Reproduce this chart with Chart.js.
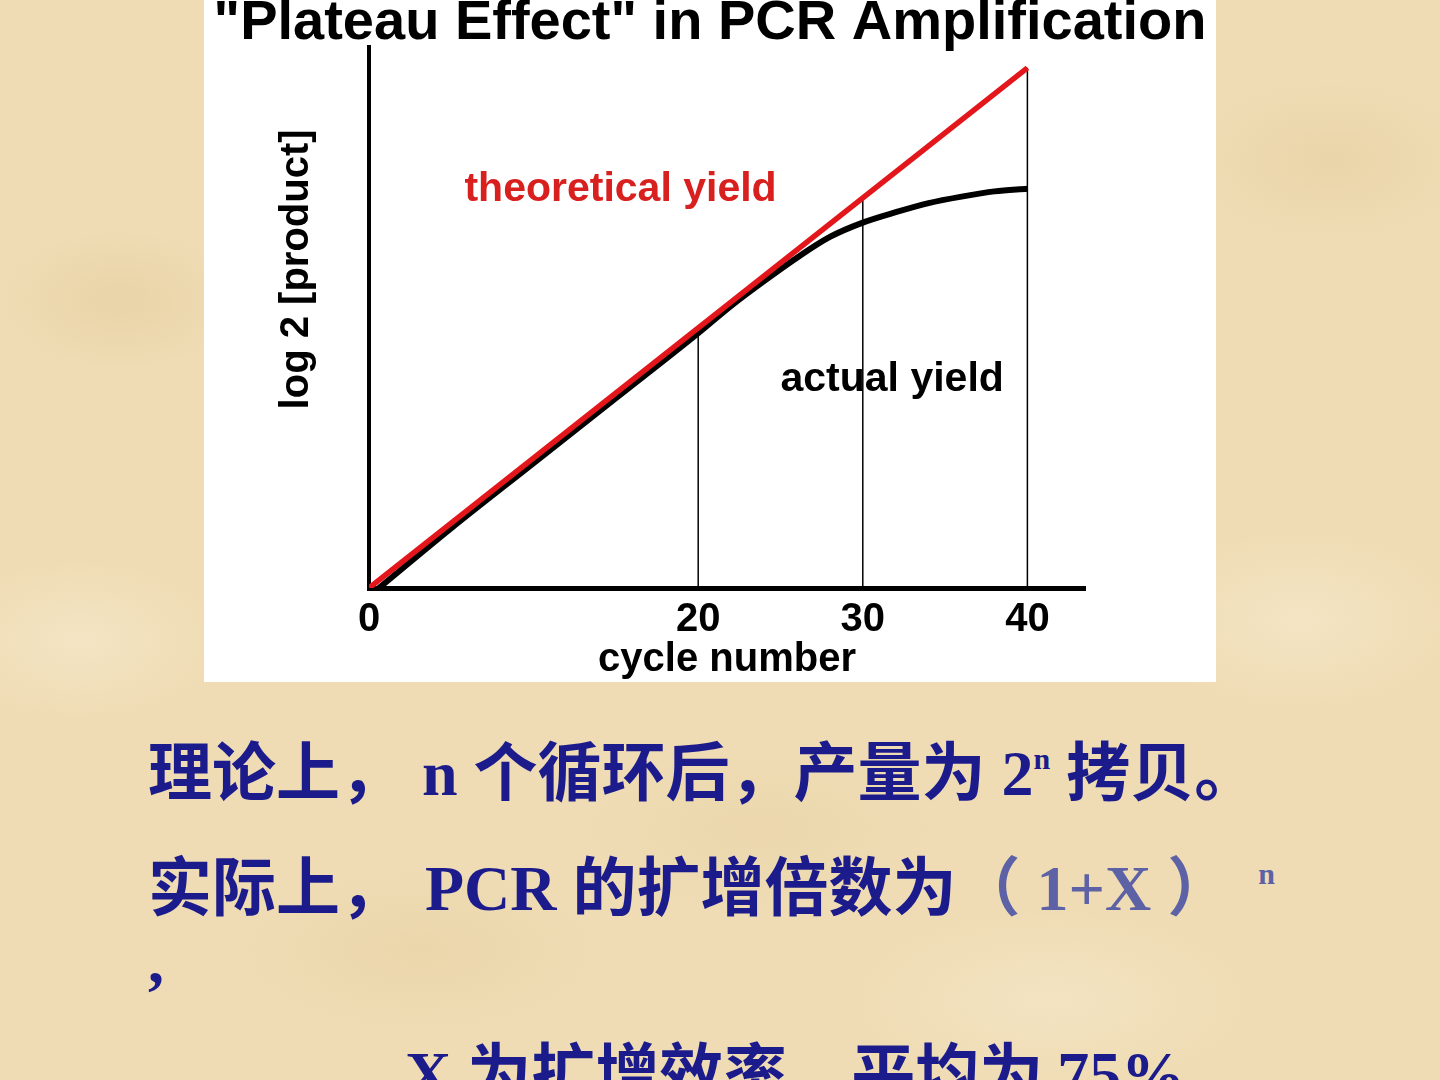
<!DOCTYPE html>
<html>
<head>
<meta charset="utf-8">
<script src="https://cdn.jsdelivr.net/npm/chart.js@4.4.1/dist/chart.umd.min.js"></script>
<style>
  html, body {
    margin: 0;
    padding: 0;
  }
  body {
    width: 1440px;
    height: 1080px;
    overflow: hidden;
    position: relative;
    background-color: #efdcb4;
    background-image:
      radial-gradient(ellipse 120px 70px at 120px 300px, rgba(222, 196, 146, 0.35), transparent),
      radial-gradient(ellipse 140px 80px at 1330px 160px, rgba(222, 196, 146, 0.3), transparent),
      radial-gradient(ellipse 160px 90px at 1300px 620px, rgba(248, 236, 210, 0.5), transparent),
      radial-gradient(ellipse 140px 80px at 80px 640px, rgba(248, 236, 210, 0.5), transparent),
      radial-gradient(ellipse 180px 80px at 420px 950px, rgba(222, 196, 146, 0.25), transparent),
      radial-gradient(ellipse 200px 90px at 1050px 1000px, rgba(248, 236, 210, 0.45), transparent),
      radial-gradient(ellipse 180px 80px at 760px 830px, rgba(222, 196, 146, 0.2), transparent);
  }
  #panel {
    position: absolute;
    left: 204px;
    top: 0;
    width: 1012px;
    height: 682px;
    background: #ffffff;
  }
  .line {
    position: absolute;
    left: 148px;
    white-space: pre;
    font-family: "Liberation Serif", "Noto Sans CJK SC", serif;
    font-weight: bold;
    font-size: 64px;
    line-height: 64px;
    color: #1b1b8b;
  }
  .soft { color: #5d62a6; }
  sup {
    font-size: 30px;
    vertical-align: 0;
    position: relative;
    top: -26px;
  }
</style>
</head>
<body>
<div id="panel"><canvas id="plateauChart" width="1012" height="682"></canvas></div>

<div class="line" style="top:742px">理论上，<span style="margin-left:18px">n 个循环后，产量为 2<sup>n</sup> 拷贝。</span></div>
<div class="line" style="top:857px">实际上，<span style="margin-left:21px">PCR 的扩增倍数为</span><span class="soft">（ 1+X ）<sup style="margin-left:27px">n</sup></span></div>
<div class="line" style="top:929px">,</div>
<div class="line" style="top:1043px;left:405px">X 为扩增效率，平均为<span style="margin-left:14px">75%</span></div>

<script>
// Axis / tick data
const cycleTicks = [0, 20, 30, 40];
const xMax = 43.5;
const yMax = 41.6;

// Theoretical yield: straight line, log2 product = cycle number
const theoCycles = [0, 40];
const theoValues = [0, 40];

// Actual yield: follows theory then levels off (plateau)
const actualCycles = [0.6, 5, 10, 15, 20, 22, 24, 26, 28, 30, 32, 34, 36, 38, 40];
const actualValues = [0, 4.6, 9.6, 14.6, 19.6, 21.7, 23.6, 25.4, 27.0, 28.1, 28.9, 29.6, 30.1, 30.5, 30.7];

// Vertical guide lines at these cycles, up to the theoretical line
const dropCycles = [20, 30, 40];
const dropTops = [20, 30, 40];

const labelFont = { family: 'Liberation Sans', weight: 'bold', size: 40 };

// Free text inside the plot
const annotationPlugin = {
  id: 'annotations',
  afterDatasetsDraw(chart) {
    const { ctx, scales } = chart;
    const x = scales.x, y = scales.y;
    ctx.save();
    ctx.font = 'bold 41px "Liberation Sans"';
    ctx.textBaseline = 'middle';
    ctx.textAlign = 'left';

    ctx.fillStyle = '#d8201f';
    ctx.fillText('theoretical yield', x.getPixelForValue(5.8), y.getPixelForValue(30.6));

    ctx.fillStyle = '#000000';
    ctx.fillText('actual yield', x.getPixelForValue(25.0), y.getPixelForValue(16.0));

    // y axis title, rotated
    ctx.font = 'bold 40px "Liberation Sans"';
    ctx.translate(x.getPixelForValue(0) - 72, y.getPixelForValue(24.5));
    ctx.rotate(-Math.PI / 2);
    ctx.textAlign = 'center';
    ctx.fillText('log 2 [product]', 0, 0);
    ctx.restore();
  }
};

function buildDatasets() {
  const datasets = [];

  datasets.push({
    label: 'theoretical yield',
    data: theoCycles.map((c, i) => ({ x: c, y: theoValues[i] })),
    borderColor: '#e3161b',
    borderWidth: 5.5,
    pointRadius: 0,
    order: 0
  });

  datasets.push({
    label: 'actual yield',
    data: actualCycles.map((c, i) => ({ x: c, y: actualValues[i] })),
    borderColor: '#000000',
    borderWidth: 6,
    pointRadius: 0,
    tension: 0.4,
    cubicInterpolationMode: 'monotone',
    order: 1
  });

  dropCycles.forEach((c, i) => {
    datasets.push({
      label: 'cycle ' + c,
      data: [{ x: c, y: 0 }, { x: c, y: dropTops[i] }],
      borderColor: '#000000',
      borderWidth: 1.5,
      pointRadius: 0,
      order: 2
    });
  });

  return datasets;
}

const ctx = document.getElementById('plateauChart').getContext('2d');
const chart = new Chart(ctx, {
  type: 'line',
  data: { datasets: buildDatasets() },
  plugins: [annotationPlugin],
  options: {
    responsive: false,
    animation: false,
    layout: {
      padding: 0
    },
    plugins: {
      legend: { display: false },
      tooltip: { enabled: false },
      title: {
        display: true,
        text: '"Plateau Effect" in PCR Amplification',
        color: '#000000',
        font: { family: 'Liberation Sans', weight: 'bold', size: 56, lineHeight: 0.84 },
        padding: { top: 0, bottom: 0 }
      }
    },
    scales: {
      x: {
        type: 'linear',
        min: 0,
        max: xMax,
        afterBuildTicks: function(scale) {
          scale.ticks = cycleTicks.map(v => ({ value: v }));
        },
        afterFit: function(scale) {
          scale.height = 94;
        },
        grid: { display: false, drawTicks: false },
        border: { display: true, color: '#000000', width: 5 },
        ticks: {
          color: '#000000',
          font: labelFont,
          padding: 8,
          maxRotation: 0,
          autoSkip: false
        },
        title: {
          display: true,
          text: 'cycle number',
          color: '#000000',
          font: { family: 'Liberation Sans', weight: 'bold', size: 40, lineHeight: 1.05 },
          padding: { top: 0, bottom: 1 }
        }
      },
      y: {
        type: 'linear',
        min: 0,
        max: yMax,
        afterFit: function(scale) {
          scale.width = 165;
        },
        grid: { display: false, drawTicks: false },
        border: { display: true, color: '#000000', width: 4 },
        ticks: { display: false }
      },
      // empty right-hand axis, only reserves the white margin on the right
      yRight: {
        type: 'linear',
        position: 'right',
        min: 0,
        max: yMax,
        afterFit: function(scale) {
          scale.width = 131;
        },
        grid: { display: false, drawTicks: false },
        border: { display: false },
        ticks: { display: false }
      }
    }
  }
});
</script>
</body>
</html>
